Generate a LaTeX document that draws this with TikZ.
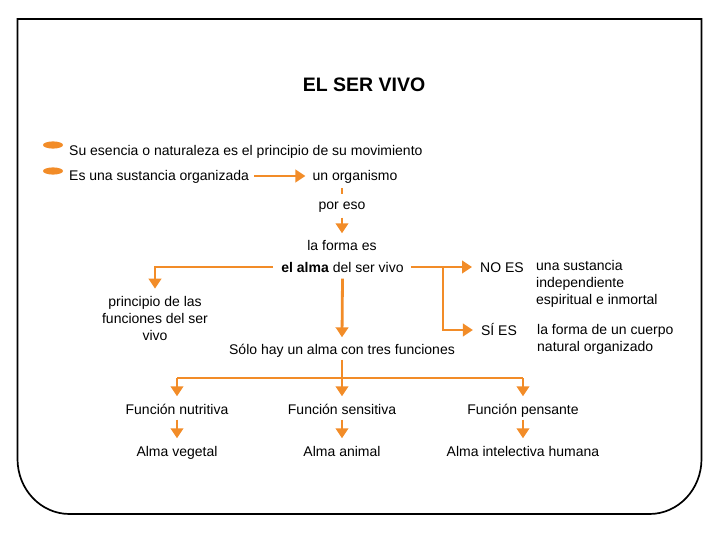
\documentclass[tikz,border=0pt]{standalone}
\usepackage{fontspec}
\setmainfont{Liberation Sans}
\usetikzlibrary{arrows.meta}
\definecolor{orng}{RGB}{242,140,40}
\begin{document}
\begin{tikzpicture}[x=1pt,y=-1pt,
  mtxt/.style={inner sep=0pt, font=\fontsize{14}{17}\selectfont},
  txt/.style={mtxt, text height=11.5pt, text depth=1.5pt},
  conn/.style={draw=orng, line width=2.8pt},
  arr/.style={conn, -{Triangle[width=12.5pt,length=10pt]}},
  frame/.style={draw=black, line width=1.7pt}
]
\useasboundingbox (0,0) rectangle (720,540);
% frame
\draw[frame] (17.5,459) -- (17.5,19) -- (701.5,19) -- (701.5,459)
  .. controls (701.5,489.4) and (678.2,514) .. (649.5,514)
  -- (69.5,514)
  .. controls (40.8,514) and (17.5,489.4) .. (17.5,459) -- cycle;
% title
\node[inner sep=0pt, font=\fontsize{19.5}{22}\selectfont\bfseries] (title) at (364,85) {EL SER VIVO};
% bullets
\fill[orng] (53,145) ellipse [x radius=10, y radius=3.6];
\fill[orng] (53,171) ellipse [x radius=10, y radius=3.6];
\node[txt, anchor=west] (t1) at (69,151) {Su esencia o naturaleza es el principio de su movimiento};
\node[txt, anchor=west] (t2) at (69,176) {Es una sustancia organizada};
\node[txt] (org) at (355,176) {un organismo};
\draw[arr] ([xshift=5pt]t2.east) -- ([xshift=-7pt]org.west);
\coordinate (d1) at (342,188);
\coordinate (d2) at (342,194);
\draw[draw=orng, line width=2pt] (d1) -- (d2);
\node[txt] (poreso) at (342,205) {por eso};
\node[txt] (forma) at (342,246) {la forma es};
\node[txt] (alma) at (342.5,267) {\textbf{el alma} del ser vivo};
\draw[arr] ([yshift=-6pt]poreso.south) -- ([yshift=6pt]forma.north);
% left
\node[mtxt, align=center] (princ) at (155,318) {principio de las\\funciones del ser\\vivo};
\draw[arr] ([xshift=-8pt]alma.west) -| ([yshift=7pt]princ.north);
% down
\node[txt] (solo) at (342,349) {Sólo hay un alma con tres funciones};
\draw[arr] ([yshift=-5pt]alma.south) -- ([yshift=5pt]solo.north);
% right
\node[txt] (noes) at (502,267) {NO ES};
\node[txt] (sies) at (499,330) {SÍ ES};
\node[mtxt, anchor=north west, align=left] (ns) at (536,260) {una sustancia\\independiente\\espiritual e inmortal};
\node[mtxt, anchor=north west, align=left] (ss) at (537,324) {la forma de un cuerpo\\natural organizado};
\coordinate (br) at (443,267);
\draw[arr] ([xshift=7pt]alma.east) -- ([xshift=-8pt]noes.west);
\draw[arr] (br) |- ([xshift=-8pt]sies.west);
% bottom tree
\node[txt] (fn) at (177,409) {Función nutritiva};
\node[txt] (fs) at (342,409) {Función sensitiva};
\node[txt] (fp) at (523,409) {Función pensante};
\node[txt] (av) at (177,451) {Alma vegetal};
\node[txt] (aa) at (342,451) {Alma animal};
\node[txt] (ai) at (523,451) {Alma intelectiva humana};
\coordinate (bar) at (342,378);
\draw[conn] ([yshift=-4pt]solo.south) -- (bar);
\draw[conn] (fn.center|-bar) -- (fp.center|-bar);
\foreach \f in {fn,fs,fp}{
  \draw[arr] (\f.center|-bar) -- ([yshift=6pt]\f.north);
}
\draw[arr] ([yshift=-4pt]fn.south) -- ([yshift=6pt]av.north);
\draw[arr] ([yshift=-4pt]fs.south) -- ([yshift=6pt]aa.north);
\draw[arr] ([yshift=-4pt]fp.south) -- ([yshift=6pt]ai.north);
\end{tikzpicture}
\end{document}
